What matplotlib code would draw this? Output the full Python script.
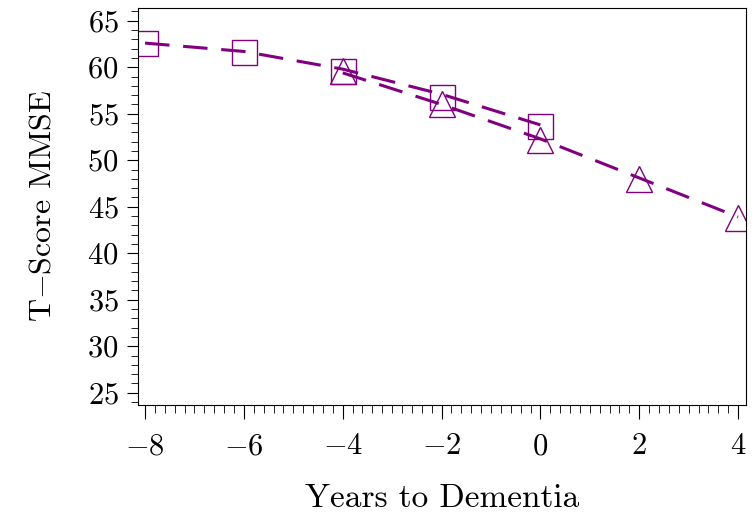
import matplotlib
matplotlib.use("Agg")
import matplotlib.pyplot as plt
from matplotlib.ticker import MultipleLocator

plt.rcParams['font.family'] = 'cmr10'
plt.rcParams['mathtext.fontset'] = 'cm'
plt.rcParams['axes.formatter.use_mathtext'] = True

# observed means
years_sq = [-8, -6, -4, -2, 0]
score_sq = [62.6, 61.6, 59.6, 56.8, 53.7]
years_tri = [-4, -2, 0, 2, 4]
score_tri = [59.6, 56.1, 52.2, 48.0, 43.8]

# fitted curves
fit_sq = [62.6, 61.7, 59.8, 57.1, 53.8]
fit_tri = [59.4, 56.0, 52.3, 48.1, 43.9]

purple = '#800080'

fig = plt.figure(figsize=(7.55, 5.17), dpi=100)
ax = fig.add_axes([0.183, 0.217, 0.805, 0.768])

dash = (8, 4.5)
ax.plot(years_sq, fit_sq, color=purple, lw=2.2, dashes=dash)
ax.plot(years_tri, fit_tri, color=purple, lw=2.2, dashes=dash)

ax.plot(years_sq, score_sq, ls='none', marker='s', ms=18, mfc='none',
        mec=purple, mew=1.0)
ax.plot(years_tri, score_tri, ls='none', marker='^', ms=19, mfc='none',
        mec=purple, mew=1.0)

ax.set_xlim(-8.14, 4.16)
ax.set_ylim(23.7, 66.4)
ax.xaxis.set_major_locator(MultipleLocator(2))
ax.xaxis.set_minor_locator(MultipleLocator(0.2))
ax.yaxis.set_major_locator(MultipleLocator(5))
ax.yaxis.set_minor_locator(MultipleLocator(1))

ax.tick_params(axis='both', which='major', direction='out', labelsize=22,
               top=False, right=False)
ax.tick_params(axis='x', which='major', length=10, pad=10)
ax.tick_params(axis='x', which='minor', length=6)
ax.tick_params(axis='y', which='major', length=8, pad=6)
ax.tick_params(axis='y', which='minor', length=5)

ax.set_xlabel('Years to Dementia', fontsize=24, labelpad=17)
ax.set_ylabel('T$-$Score MMSE', fontsize=23, labelpad=22)

plt.savefig('out.png', dpi=100)
